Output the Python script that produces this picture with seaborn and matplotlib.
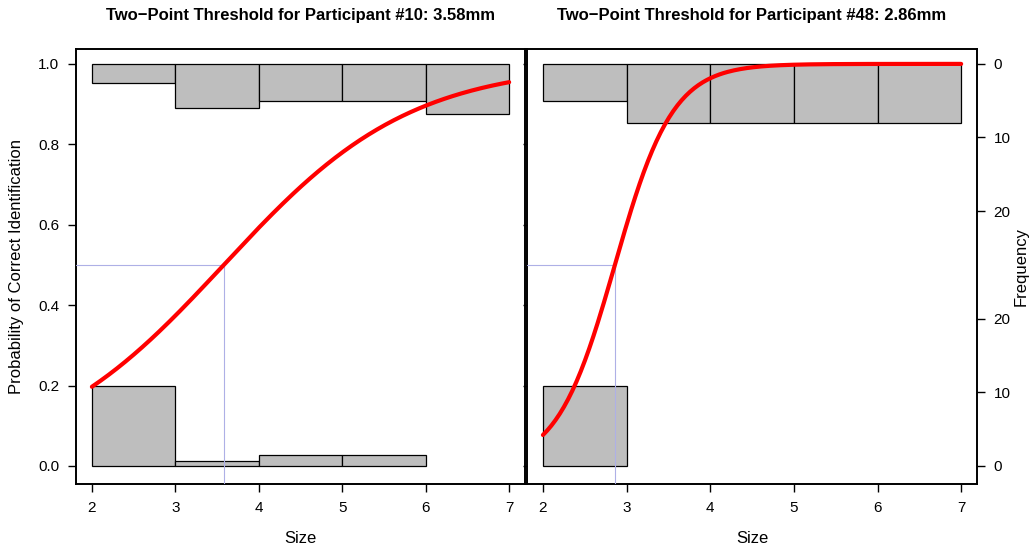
import numpy as np
import pandas as pd
import matplotlib
matplotlib.use("Agg")
import matplotlib.pyplot as plt
import seaborn as sns

# bins of stimulus size (mm)
bin_edges = [2, 3, 4, 5, 6, 7]

participants = ["#10", "#48"]
thresholds = [3.58, 2.86]
slopes = [0.89, 2.89]

# histogram counts (frequency) per size bin
top_counts = [[2.6, 6.0, 5.1, 5.1, 6.8], [5.1, 8.1, 8.1, 8.1, 8.1]]      # correct
bottom_counts = [[10.9, 0.7, 1.5, 1.5, 0.0], [10.9, 0.0, 0.0, 0.0, 0.0]]  # incorrect

freq_ticks = [0, 10, 20]
count_scale = 0.0183  # probability units per count on the shared axis

sns.set_theme(style="white")
plt.rcParams["font.family"] = ["Liberation Sans", "DejaVu Sans"]
plt.rcParams["text.color"] = "black"
plt.rcParams["axes.labelcolor"] = "black"
plt.rcParams["xtick.color"] = "black"
plt.rcParams["ytick.color"] = "black"

fig = plt.figure(figsize=(10.29, 5.52), dpi=100)
ax1 = fig.add_axes([0.0739, 0.1232, 0.4363, 0.788])
ax2 = fig.add_axes([0.5122, 0.1232, 0.4373, 0.788])

for i, ax in enumerate([ax1, ax2]):
    lefts = bin_edges[:-1]
    for x0, c in zip(lefts, top_counts[i]):
        if c > 0:
            ax.bar(x0, c * count_scale, width=1, bottom=1 - c * count_scale, align="edge",
                   color="#bebebe", edgecolor="black", linewidth=0.9, zorder=2)
    for x0, c in zip(lefts, bottom_counts[i]):
        if c > 0:
            ax.bar(x0, c * count_scale, width=1, bottom=0, align="edge",
                   color="#bebebe", edgecolor="black", linewidth=0.9, zorder=2)

    xs = np.linspace(bin_edges[0], bin_edges[-1], 200)
    fit = pd.DataFrame({"Size": xs, "p": 1 / (1 + np.exp(-slopes[i] * (xs - thresholds[i])))})
    sns.lineplot(data=fit, x="Size", y="p", ax=ax, color="red", linewidth=3, zorder=4)

    ax.set_xlim(1.81, 7.19)
    ax.set_ylim(-0.045, 1.037)
    thr = thresholds[i]
    ax.plot([1.81, thr], [0.5, 0.5], color="#aeb0e6", linewidth=0.8, zorder=3)
    ax.plot([thr, thr], [-0.045, 0.5], color="#aeb0e6", linewidth=0.8, zorder=3)

    ax.set_xticks(bin_edges)
    ax.set_xlabel("Size", fontsize=12, labelpad=12)
    ax.set_title(f"Two\u2212Point Threshold for Participant {participants[i]}: {thr:.2f}mm",
                 fontsize=12, fontweight="bold", pad=21)
    for s in ax.spines.values():
        s.set_color("black")
        s.set_linewidth(1.4)
    ax.tick_params(axis="both", direction="out", length=6, width=1, color="black",
                   labelsize=11, pad=6, left=True, bottom=True)

ax1.set_yticks([0, 0.2, 0.4, 0.6, 0.8, 1.0])
ax1.set_yticklabels(["0.0", "0.2", "0.4", "0.6", "0.8", "1.0"])
ax1.set_ylabel("Probability of Correct Identification", fontsize=12, labelpad=10)
ax2.set_yticks([0, 0.2, 0.4, 0.6, 0.8, 1.0])
ax2.set_yticklabels([])
ax2.set_ylabel("")
ax2.tick_params(axis="y", length=3)

# frequency axis on the right
axr = ax2.twinx()
axr.set_ylim(ax2.get_ylim())
pos = [1 - t * count_scale for t in freq_ticks] + [t * count_scale for t in freq_ticks]
axr.set_yticks(pos)
axr.set_yticklabels([str(t) for t in freq_ticks] * 2)
axr.tick_params(axis="y", direction="out", length=6, width=1, color="black", labelsize=11, pad=6, right=True)
axr.set_ylabel("Frequency", fontsize=12, labelpad=2)
axr.grid(False)
for s in axr.spines.values():
    s.set_visible(False)

fig.savefig("out.png", dpi=100)
